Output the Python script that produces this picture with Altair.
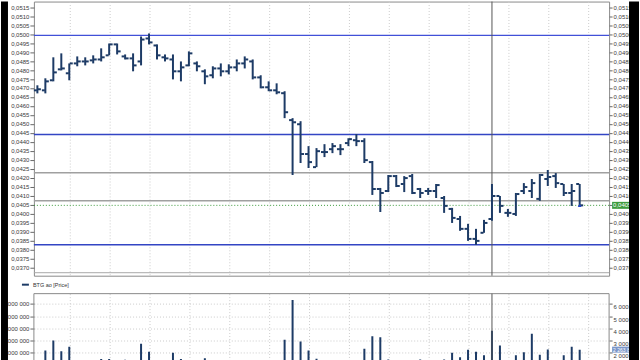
import altair as alt
import pandas as pd

# ---------------- data ----------------
bars = list(range(69))
opens = [0.04687, 0.04687, 0.04743, 0.04804, 0.04782, 0.04837, 0.04848, 0.04854, 0.04859, 0.04882,
         0.04943, 0.04876, 0.04865, 0.04848, 0.04976, 0.04937, 0.04871, 0.04859, 0.04793, 0.04826,
         0.04837, 0.04793, 0.04771, 0.04809, 0.04793, 0.04815, 0.04837, 0.04848, 0.04759, 0.04704,
         0.04687, 0.04671, 0.04521, 0.04498, 0.04332, 0.04259, 0.04343, 0.04359, 0.04359, 0.04393,
         0.04409, 0.04404, 0.04287, 0.04137, 0.04126, 0.04209, 0.04165, 0.04209, 0.04137, 0.04126,
         0.04126, 0.04087, 0.04026, 0.03970, 0.03915, 0.03859, 0.03893, 0.03970, 0.04098, 0.04004,
         0.03998, 0.04126, 0.04126, 0.04082, 0.04193, 0.04209, 0.04165, 0.04115, 0.04165]
highs = [0.04715, 0.04754, 0.04871, 0.04893, 0.04837, 0.04876, 0.04871, 0.04882, 0.04921, 0.04948,
         0.04948, 0.04887, 0.04893, 0.04987, 0.05004, 0.04943, 0.04887, 0.04887, 0.04848, 0.04904,
         0.04848, 0.04804, 0.04821, 0.04837, 0.04832, 0.04859, 0.04876, 0.04859, 0.04771, 0.04737,
         0.04726, 0.04682, 0.04532, 0.04515, 0.04376, 0.04365, 0.04387, 0.04393, 0.04387, 0.04420,
         0.04443, 0.04420, 0.04293, 0.04143, 0.04215, 0.04215, 0.04209, 0.04221, 0.04143, 0.04143,
         0.04165, 0.04098, 0.04032, 0.03987, 0.03943, 0.03915, 0.03965, 0.04165, 0.04098, 0.04026,
         0.04115, 0.04170, 0.04193, 0.04221, 0.04243, 0.04226, 0.04165, 0.04165, 0.04165]
lows = [0.04670, 0.04670, 0.04737, 0.04798, 0.04743, 0.04821, 0.04826, 0.04837, 0.04848, 0.04882,
        0.04887, 0.04859, 0.04793, 0.04826, 0.04943, 0.04859, 0.04848, 0.04748, 0.04737, 0.04821,
        0.04793, 0.04721, 0.04754, 0.04765, 0.04776, 0.04793, 0.04809, 0.04748, 0.04698, 0.04682,
        0.04665, 0.04532, 0.04215, 0.04282, 0.04254, 0.04259, 0.04315, 0.04337, 0.04326, 0.04376,
        0.04376, 0.04282, 0.04104, 0.04009, 0.04120, 0.04148, 0.04120, 0.04109, 0.04087, 0.04104,
        0.04087, 0.04004, 0.03948, 0.03904, 0.03848, 0.03826, 0.03893, 0.03960, 0.04004, 0.03982,
        0.03987, 0.04109, 0.04087, 0.04071, 0.04154, 0.04143, 0.04098, 0.04043, 0.04037]
closes = [0.04693, 0.04737, 0.04787, 0.04809, 0.04837, 0.04848, 0.04848, 0.04859, 0.04871, 0.04943,
          0.04904, 0.04865, 0.04826, 0.04970, 0.04954, 0.04882, 0.04865, 0.04793, 0.04815, 0.04893,
          0.04821, 0.04765, 0.04809, 0.04793, 0.04815, 0.04837, 0.04859, 0.04759, 0.04704, 0.04687,
          0.04676, 0.04565, 0.04509, 0.04332, 0.04287, 0.04348, 0.04343, 0.04376, 0.04359, 0.04415,
          0.04404, 0.04298, 0.04137, 0.04115, 0.04209, 0.04154, 0.04198, 0.04115, 0.04115, 0.04126,
          0.04159, 0.04043, 0.03976, 0.03915, 0.03859, 0.03848, 0.03948, 0.04098, 0.04043, 0.04004,
          0.04109, 0.04148, 0.04170, 0.04215, 0.04204, 0.04170, 0.04115, 0.04126, 0.04046]
volumes = [1200000, 2200000, 3000000, 2140000, 2500000, 1100000, 900000, 1000000, 1500000, 1500000,
           1200000, 1440000, 1100000, 2740000, 2100000, 1000000, 1200000, 2000000, 1500000, 1100000,
           1000000, 1570000, 900000, 1000000, 800000, 900000, 1100000, 1200000, 1000000, 1100000,
           1300000, 3060000, 6320000, 2930000, 2200000, 1520000, 1100000, 1000000, 900000, 1200000,
           1300000, 2330000, 3360000, 3280000, 1460000, 1200000, 1100000, 1000000, 1460000, 1200000,
           1100000, 1460000, 2000000, 1650000, 2250000, 2100000, 1800000, 3800000, 2600000, 1300000,
           1800000, 2050000, 3550000, 1850000, 2280000, 1200000, 1800000, 2500000, 2263822]

grid_bars = [4, 9, 14, 19, 24, 29, 34, 39, 44, 49, 54, 59, 64, 69]
price_ticks = [0.0370, 0.0375, 0.0380, 0.0385, 0.0390, 0.0395, 0.0400, 0.0405, 0.0410, 0.0415,
               0.0420, 0.0425, 0.0430, 0.0435, 0.0440, 0.0445, 0.0450, 0.0455, 0.0460, 0.0465,
               0.0470, 0.0475, 0.0480, 0.0485, 0.0490, 0.0495, 0.0500, 0.0505, 0.0510, 0.0515]
volume_ticks = [2000000, 3000000, 4000000, 5000000, 6000000]
blue_top_level = [0.04993]
blue_levels = [0.04441, 0.03826]
gray_levels = [0.04228, 0.04071]
crosshair_bar = [57]
series_name = ["BTG ao [Price]"]

# ---------------- layout ----------------
W = 577
H_TOP = 275
H_VOL = 67
SPACING = 18
NAVY = "#1d3b66"

ohlc = pd.DataFrame({"bar": bars, "open": opens, "high": highs, "low": lows,
                     "close": closes, "volume": volumes})
last = ohlc.tail(1).copy()
last["price_label"] = f"{closes[-1]:.4f}".replace(".", ",")
last["vol_label"] = f"{volumes[-1]:,}".replace(",", " ")

xs = alt.Scale(domain=[-0.4375, 71.6875], nice=False, zero=False)
ys = alt.Scale(domain=[0.036539, 0.051817], nice=False, zero=False)
vs = alt.Scale(domain=[1382000, 6830000], nice=False, zero=False)

x_axis = alt.Axis(values=grid_bars, grid=True, labels=False, ticks=False, domain=False,
                  title=None, gridColor="#cccccc", gridDash=[1, 2], gridWidth=1)
X = alt.X("bar:Q", scale=xs, axis=x_axis)

price_expr = "replace(format(datum.value, '.4f'), '.', ',')"
left_price_axis = alt.Axis(orient="left", values=price_ticks, labelExpr=price_expr, title=None,
                           grid=False, domain=False, tickSize=4, labelPadding=1, labelOverlap=False)
right_price_axis = alt.Axis(orient="right", values=price_ticks, labelExpr=price_expr, title=None,
                            grid=False, domain=False, tickSize=3, labelPadding=1, labelOverlap=False)

vol_expr = "format(datum.value / 1000000, 'd') + ' 000 000'"
left_vol_axis = alt.Axis(orient="left", values=volume_ticks, labelExpr=vol_expr, title=None,
                         grid=True, gridColor="#cccccc", gridDash=[1, 2], domain=False,
                         tickSize=4, labelPadding=1, labelOverlap=False)
right_vol_axis = alt.Axis(orient="right", values=volume_ticks, labelExpr=vol_expr, title=None,
                          grid=False, domain=False, tickSize=3, labelPadding=1,
                          labelOverlap=False, labelLimit=22, labelBaseline="top")

# ---------------- price panel ----------------
lv_top = alt.Chart(pd.DataFrame({"price": blue_top_level})).mark_rule(
    color="#4150d8", strokeWidth=1.2).encode(y=alt.Y("price:Q", scale=ys, axis=None))
lv_blue = alt.Chart(pd.DataFrame({"price": blue_levels})).mark_rule(
    color="#3345c4", strokeWidth=1.5).encode(y=alt.Y("price:Q", scale=ys, axis=None))
lv_gray = alt.Chart(pd.DataFrame({"price": gray_levels})).mark_rule(
    color="#a0a0a0", strokeWidth=1.5).encode(y=alt.Y("price:Q", scale=ys, axis=None))
lv_current = alt.Chart(last).mark_rule(color="#3a9a3a", strokeDash=[1, 2], strokeWidth=1).encode(
    y=alt.Y("close:Q", scale=ys, axis=None))
bottom_line = alt.Chart().mark_rule(color="#a8a8a8", strokeWidth=1).encode(
    x=alt.value(0), x2=alt.value(W), y=alt.value(H_TOP - 3))
cross_top = alt.Chart(pd.DataFrame({"bar": crosshair_bar})).mark_rule(
    color="#555555", strokeWidth=1).encode(x=X)

wicks = alt.Chart(ohlc).mark_rule(color=NAVY, strokeWidth=2).encode(
    x=X, y=alt.Y("low:Q", scale=ys, axis=left_price_axis), y2="high:Q")
open_ticks = alt.Chart(ohlc).mark_tick(orient="horizontal", color=NAVY, size=3, thickness=2,
                                       xOffset=-2, opacity=1).encode(
    x=X, y=alt.Y("open:Q", scale=ys, axis=None))
close_ticks = alt.Chart(ohlc).mark_tick(orient="horizontal", color=NAVY, size=3, thickness=2,
                                        xOffset=2, opacity=1).encode(
    x=X, y=alt.Y("close:Q", scale=ys, axis=right_price_axis))
last_marker = alt.Chart(last).mark_point(shape="triangle-up", filled=True, size=14,
                                         color="#2244cc", opacity=1).encode(
    x=X, y=alt.Y("close:Q", scale=ys, axis=None))
price_box = alt.Chart(last).mark_rule(color="#3d9b3d", strokeWidth=7).encode(
    x=alt.value(W + 3), x2=alt.value(W + 23), y=alt.Y("close:Q", scale=ys, axis=None))
price_text = alt.Chart(last).mark_text(align="left", baseline="middle", fontSize=6,
                                       color="white", font="Liberation Sans").encode(
    x=alt.value(W + 4), y=alt.Y("close:Q", scale=ys, axis=None), text="price_label:N")

top = alt.layer(lv_top, lv_blue, lv_gray, lv_current, bottom_line, cross_top,
                wicks, open_ticks, close_ticks, last_marker, price_box, price_text
                ).resolve_axis(y="independent").properties(width=W, height=H_TOP)

# ---------------- volume panel ----------------
vbars = alt.Chart(ohlc).mark_rule(color=NAVY, strokeWidth=2, clip=True).encode(
    x=X, y=alt.Y("volume:Q", scale=vs, axis=left_vol_axis), y2=alt.datum(0))
cross_vol = alt.Chart(pd.DataFrame({"bar": crosshair_bar})).mark_rule(
    color="#555555", strokeWidth=1).encode(x=X)
vol_box = alt.Chart(last).mark_rule(color="#7b96c8", strokeWidth=6).encode(
    x=alt.value(W + 3), x2=alt.value(W + 25), y=alt.Y("volume:Q", scale=vs, axis=right_vol_axis))
vol_text = alt.Chart(last).mark_text(align="left", baseline="middle", fontSize=5,
                                     color="white", font="Liberation Sans").encode(
    x=alt.value(W + 4), y=alt.Y("volume:Q", scale=vs, axis=None), text="vol_label:N")
frame_top = alt.Chart().mark_rule(color="#8a8a8a", strokeWidth=1).encode(
    x=alt.value(0), x2=alt.value(W), y=alt.value(0))
frame_left = alt.Chart().mark_rule(color="#8a8a8a", strokeWidth=1).encode(
    x=alt.value(0), y=alt.value(0), y2=alt.value(H_VOL))
frame_right = alt.Chart().mark_rule(color="#8a8a8a", strokeWidth=1).encode(
    x=alt.value(W), y=alt.value(0), y2=alt.value(H_VOL))
legend_line = alt.Chart().mark_rule(color=NAVY, strokeWidth=2).encode(
    x=alt.value(-12), x2=alt.value(-5), y=alt.value(-9))
legend_text = alt.Chart(pd.DataFrame({"name": series_name})).mark_text(
    align="left", baseline="middle", fontSize=5.5, color="#333333", font="Liberation Sans").encode(
    x=alt.value(-1), y=alt.value(-9), text="name:N")
black_left = alt.Chart().mark_rect(color="black").encode(
    x=alt.value(-33), x2=alt.value(-26), y=alt.value(-(H_TOP + SPACING)), y2=alt.value(H_VOL))
black_right = alt.Chart().mark_rect(color="black").encode(
    x=alt.value(597), x2=alt.value(607), y=alt.value(-(H_TOP + SPACING)), y2=alt.value(H_VOL))

bottom = alt.layer(frame_top, frame_left, frame_right, vbars, cross_vol, vol_box, vol_text,
                   legend_line, legend_text, black_left, black_right
                   ).resolve_axis(y="independent").properties(
    width=W, height=H_VOL, view=alt.ViewBackground(stroke="transparent"))

chart = alt.vconcat(top, bottom, spacing=SPACING).properties(
    bounds="flush", padding=0
).configure_view(stroke="#8a8a8a", strokeWidth=1).configure_axis(
    labelFont="Liberation Sans", labelFontSize=6, labelColor="#3a3a3a",
    tickColor="#666666", tickWidth=1)

chart.save("out.html", embed_options={"renderer": "svg", "actions": False})
